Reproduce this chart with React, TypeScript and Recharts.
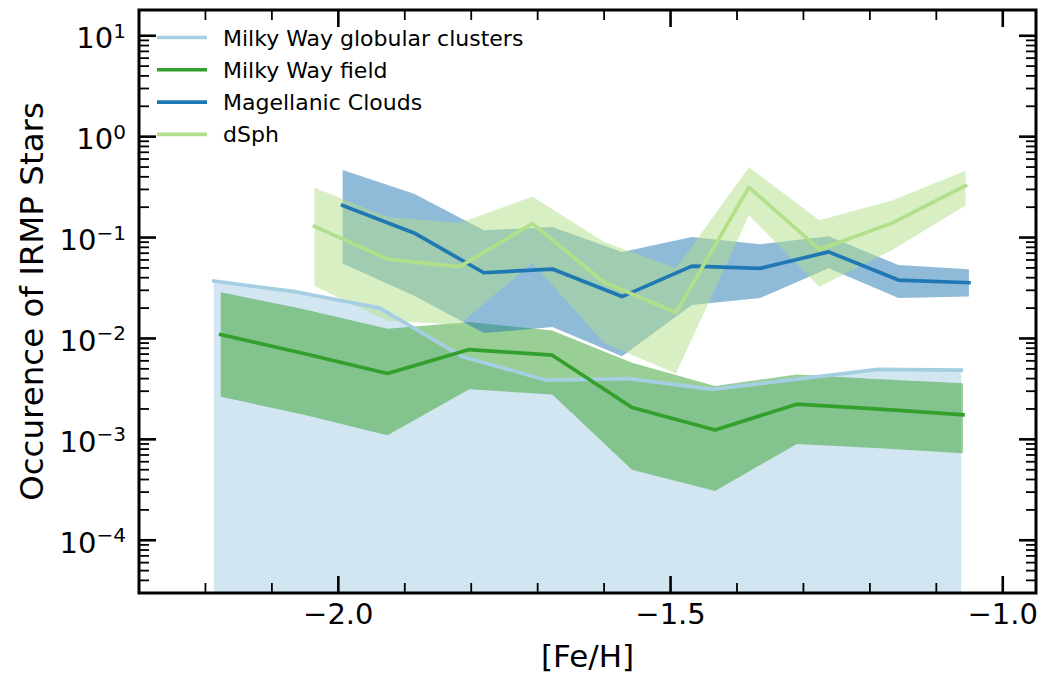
import React from "react";
import { ComposedChart, Area, Line, XAxis, YAxis, ReferenceArea } from "recharts";

// ---------------- data ----------------
const seriesNames = ["Milky Way globular clusters", "Milky Way field", "Magellanic Clouds", "dSph"];
const seriesColors = ["#a6cee3", "#33a02c", "#1f78b4", "#b2df8a"];

// Milky Way globular clusters
const gcX = [-2.1875, -2.0625, -1.9375, -1.8125, -1.6875, -1.5625, -1.4375, -1.3125, -1.1875, -1.0625];
const gcY = [0.0371, 0.0289, 0.02, 0.00658, 0.00387, 0.00399, 0.00313, 0.00393, 0.00493, 0.00485];
const gcHi = [0.0371, 0.0289, 0.02, 0.00658, 0.00387, 0.00399, 0.00313, 0.00393, 0.00493, 0.00485];
const gcLo = [1e-6, 1e-6, 1e-6, 1e-6, 1e-6, 1e-6, 1e-6, 1e-6, 1e-6, 1e-6];

// Milky Way field
const fX = [-2.177, -2.052, -1.926, -1.803, -1.678, -1.558, -1.433, -1.31, -1.185, -1.06];
const fY = [0.0109, 0.0071, 0.0045, 0.00776, 0.00682, 0.00207, 0.00124, 0.00223, 0.00199, 0.00175];
const fHi = [0.0287, 0.0195, 0.0125, 0.01455, 0.012, 0.00574, 0.00337, 0.0044, 0.00393, 0.00359];
const fLo = [0.00265, 0.00175, 0.0011, 0.00313, 0.00279, 0.000501, 0.000308, 0.000899, 0.000814, 0.000728];

// Magellanic Clouds
const mX = [-1.9935, -1.886, -1.781, -1.678, -1.573, -1.468, -1.365, -1.262, -1.157, -1.051];
const mY = [0.208, 0.111, 0.0448, 0.0487, 0.026, 0.0521, 0.0495, 0.0721, 0.0379, 0.0357];
const mHi = [0.468, 0.272, 0.118, 0.127, 0.072, 0.1014, 0.0859, 0.103, 0.0533, 0.0484];
const mLo = [0.0554, 0.0265, 0.0113, 0.013, 0.00667, 0.0215, 0.0251, 0.0495, 0.0251, 0.026];

// dSph
const dX = [-2.036, -1.926, -1.818, -1.708, -1.6, -1.492, -1.382, -1.276, -1.167, -1.056];
const dY = [0.129, 0.0611, 0.0513, 0.1374, 0.0361, 0.0181, 0.315, 0.0762, 0.139, 0.327];
const dHi = [0.311, 0.16, 0.139, 0.255, 0.0905, 0.0495, 0.497, 0.148, 0.233, 0.46];
const dLo = [0.0331, 0.015, 0.0137, 0.0562, 0.00902, 0.0045, 0.166, 0.0326, 0.075, 0.208];

// axes
const xDomain = [-2.3, -0.95];
const yDomain = [3e-5, 18];
const xTicks = [-2.2, -2.1, -2.0, -1.9, -1.8, -1.7, -1.6, -1.5, -1.4, -1.3, -1.2, -1.1, -1.0];
const xMajorTicks = [-2.0, -1.5, -1.0];
const yMajorTicks = [1e-4, 1e-3, 1e-2, 1e-1, 1e0, 1e1];
const yMinorMultipliers = [2, 3, 4, 5, 6, 7, 8, 9];
const yDecades = [1e-5, 1e-4, 1e-3, 1e-2, 1e-1, 1e0];

// ---------------- layout ----------------
const W = 1044;
const H = 675;
const PLOT_LEFT = 139;
const PLOT_RIGHT = 1036;
const PLOT_TOP = 10;
const PLOT_BOTTOM = 593;
const FONT = "DejaVu Sans, Liberation Sans, sans-serif";

const build = (xs: number[], ys: number[], lo: number[], hi: number[]) =>
  xs.map((x, i) => ({ x, y: ys[i], lo: lo[i], hi: hi[i] }));

const gcData = build(gcX, gcY, gcLo, gcHi);
const fData = build(fX, fY, fLo, fHi);
const mData = build(mX, mY, mLo, mHi);
const dData = build(dX, dY, dLo, dHi);
const allData = [gcData, fData, mData, dData];

const yMinorTicks: number[] = [];
yDecades.forEach((d) =>
  yMinorMultipliers.forEach((m) => {
    const v = d * m;
    if (v >= yDomain[0] && v <= yDomain[1]) yMinorTicks.push(v);
  })
);
const yTicks = [...yMajorTicks, ...yMinorTicks].sort((a, b) => a - b);

const isXMajor = (v: number) => xMajorTicks.some((m) => Math.abs(m - v) < 1e-9);
const isYMajor = (v: number) => yMajorTicks.some((m) => Math.abs(m / v - 1) < 1e-6);

const MAJ = 17;
const MIN = 10;

const XTick = (props: any) => {
  const cx = props.payload?.coordinate ?? props.x;
  const v = props.payload?.value;
  const major = isXMajor(v);
  const len = major ? MAJ : MIN;
  const sw = major ? 2.6 : 1.8;
  return (
    <g>
      <line x1={cx} x2={cx} y1={PLOT_BOTTOM} y2={PLOT_BOTTOM - len} stroke="#000" strokeWidth={sw} />
      <line x1={cx} x2={cx} y1={PLOT_TOP} y2={PLOT_TOP + len} stroke="#000" strokeWidth={sw} />
      {major && (
        <text x={cx} y={PLOT_BOTTOM + 31} textAnchor="middle" fontSize={29} fontFamily={FONT} fill="#000">
          {v.toFixed(1).replace("-", "\u2212")}
        </text>
      )}
    </g>
  );
};

const YTick = (props: any) => {
  const cy = props.payload?.coordinate ?? props.y;
  const v = props.payload?.value;
  const major = isYMajor(v);
  const len = major ? MAJ : MIN;
  const sw = major ? 2.6 : 1.8;
  const exp = Math.round(Math.log10(v));
  return (
    <g>
      <line x1={PLOT_LEFT} x2={PLOT_LEFT + len} y1={cy} y2={cy} stroke="#000" strokeWidth={sw} />
      <line x1={PLOT_RIGHT} x2={PLOT_RIGHT - len} y1={cy} y2={cy} stroke="#000" strokeWidth={sw} />
      {major && (
        <text x={PLOT_LEFT - 13} y={cy + 12.5} textAnchor="end" fontSize={29} fontFamily={FONT} fill="#000">
          <tspan>10</tspan>
          <tspan dy={-10.5} fontSize={20}>
            {String(exp).replace("-", "\u2212")}
          </tspan>
        </text>
      )}
    </g>
  );
};

const LegendOverlay = () => (
  <svg
    width={W}
    height={H}
    style={{ position: "absolute", left: 0, top: 0, pointerEvents: "none" }}
  >
    {seriesNames.map((name, i) => {
      const y = 37.5 + i * 32.3;
      return (
        <g key={name}>
          <line x1={157} x2={207} y1={y} y2={y} stroke={seriesColors[i]} strokeWidth={3.6} />
          <text x={223} y={y + 8} fontSize={22} fontFamily={FONT} fill="#000">
            {name}
          </text>
        </g>
      );
    })}
    <text
      x={43}
      y={(PLOT_TOP + PLOT_BOTTOM) / 2}
      transform={`rotate(-90, 43, ${(PLOT_TOP + PLOT_BOTTOM) / 2})`}
      textAnchor="middle"
      fontSize={32.5}
      fontFamily={FONT}
      fill="#000"
    >
      Occurence of IRMP Stars
    </text>
    <text
      x={(PLOT_LEFT + PLOT_RIGHT) / 2}
      y={667}
      textAnchor="middle"
      fontSize={31}
      fontFamily={FONT}
      fill="#000"
    >
      [Fe/H]
    </text>
  </svg>
);

export default function App() {
  return (
    <div style={{ position: "absolute", left: 0, top: 0, width: W, height: H, background: "#fff" }}>
      <ComposedChart
        width={W}
        height={H}
        margin={{ top: PLOT_TOP, right: W - PLOT_RIGHT, bottom: 0, left: 0 }}
      >
        {allData.map((d, i) => (
          <Area
            key={"band" + i}
            data={d}
            dataKey={(p: any) => [p.lo, p.hi]}
            type="linear"
            stroke="none"
            fill={seriesColors[i]}
            fillOpacity={0.5}
            isAnimationActive={false}
            activeDot={false}
            dot={false}
            legendType="none"
          />
        ))}
        {allData.map((d, i) => (
          <Line
            key={"line" + i}
            data={d}
            dataKey="y"
            type="linear"
            stroke={seriesColors[i]}
            strokeWidth={3.7}
            strokeLinejoin="round"
            strokeLinecap="square"
            dot={false}
            activeDot={false}
            isAnimationActive={false}
            name={seriesNames[i]}
          />
        ))}
        <XAxis
          type="number"
          dataKey="x"
          domain={xDomain}
          allowDataOverflow
          ticks={xTicks}
          interval={0}
          tick={<XTick />}
          tickLine={false}
          axisLine={false}
          height={H - PLOT_BOTTOM}
        />
        <YAxis
          type="number"
          scale="log"
          domain={yDomain}
          allowDataOverflow
          ticks={yTicks}
          interval={0}
          tick={<YTick />}
          tickLine={false}
          axisLine={false}
          width={PLOT_LEFT}
        />
        <ReferenceArea
          x1={xDomain[0]}
          x2={xDomain[1]}
          y1={yDomain[0]}
          y2={yDomain[1]}
          fill="none"
          stroke="#000"
          strokeWidth={3}
          ifOverflow="visible"
        />
      </ComposedChart>
      <LegendOverlay />
    </div>
  );
}
